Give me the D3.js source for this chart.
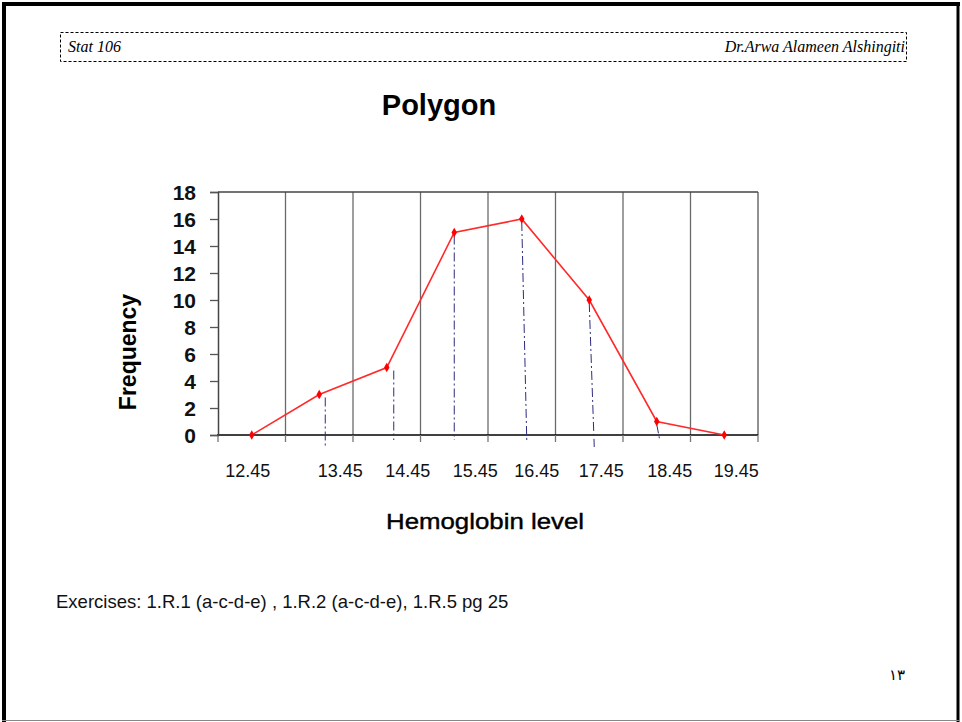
<!DOCTYPE html>
<html lang="en">
<head>
<meta charset="UTF-8">
<title>Polygon</title>
<script src="https://d3js.org/d3.v7.min.js"></script>
<style>
    body { margin: 0; padding: 0; background: #fff; }
    svg { display: block; }
    .serif { font-family: "Liberation Serif", "Times New Roman", serif; font-style: italic; }
    .sans { font-family: "Liberation Sans", Arial, sans-serif; }
</style>
</head>
<body>
<svg id="page" width="962" height="722"></svg>
<script>
    // chart data
    const categories = ["12.45", "13.45", "14.45", "15.45", "16.45", "17.45", "18.45", "19.45"];
    const frequency = [0, 3, 5, 15, 16, 10, 1, 0];
    const yTicks = [0, 2, 4, 6, 8, 10, 12, 14, 16, 18];

    // layout constants (label / drop line nudges, as in the slide)
    const labelNudge = [-4, 21, 21, 21, 15, 12, 13, 12];
    const dropNudge = [0, 6, 7, 0, 2, 2, 0, 0];

    const svg = d3.select("#page");

    // page frame
    svg.append("rect").attr("x", 0).attr("y", 0).attr("width", 962).attr("height", 722).attr("fill", "#fff");
    svg.append("line").attr("x1", 2).attr("x2", 960).attr("y1", 4).attr("y2", 4).attr("stroke", "#000").attr("stroke-width", 4);
    svg.append("line").attr("x1", 4).attr("x2", 4).attr("y1", 2).attr("y2", 722).attr("stroke", "#000").attr("stroke-width", 4);
    svg.append("line").attr("x1", 958).attr("x2", 958).attr("y1", 2).attr("y2", 722).attr("stroke", "#000").attr("stroke-width", 3);
    svg.append("line").attr("x1", 2).attr("x2", 960).attr("y1", 720.5).attr("y2", 720.5).attr("stroke", "#888").attr("stroke-width", 1);

    // header box
    svg.append("rect")
       .attr("x", 60.5).attr("y", 32.5).attr("width", 846).attr("height", 29)
       .attr("fill", "none").attr("stroke", "#000").attr("stroke-width", 1)
       .attr("stroke-dasharray", "3,2");
    svg.append("text").attr("class", "serif").attr("x", 68).attr("y", 52)
       .attr("font-size", 16).text("Stat 106");
    svg.append("text").attr("class", "serif").attr("x", 905).attr("y", 52)
       .attr("font-size", 16).attr("text-anchor", "end").text("Dr.Arwa Alameen Alshingiti");

    // title
    svg.append("text").attr("class", "sans").attr("x", 439).attr("y", 115)
       .attr("font-size", 29).attr("font-weight", "bold").attr("text-anchor", "middle")
       .text("Polygon");

    // scales
    const x = d3.scaleBand().domain(categories).range([218, 758]);
    const y = d3.scaleLinear().domain([0, 18]).range([435, 192]);
    const cx = c => x(c) + x.bandwidth() / 2;

    const plot = svg.append("g");

    // vertical grid lines at bin edges
    const edges = categories.map(c => x(c)).concat([x.range()[1]]);
    plot.selectAll(".grid")
        .data(edges.slice(1))
        .enter().append("line")
        .attr("x1", d => d).attr("x2", d => d)
        .attr("y1", y(18)).attr("y2", y(0))
        .attr("stroke", (d, i) => i === edges.length - 2 ? "#555" : "#6a6a6a")
        .attr("stroke-width", 1.3);

    // plot top border
    plot.append("line")
        .attr("x1", x.range()[0]).attr("x2", x.range()[1])
        .attr("y1", y(18)).attr("y2", y(18))
        .attr("stroke", "#444").attr("stroke-width", 1.3);

    // x axis line and ticks
    plot.append("line")
        .attr("x1", x.range()[0] - 1).attr("x2", x.range()[1])
        .attr("y1", y(0)).attr("y2", y(0))
        .attr("stroke", "#000").attr("stroke-width", 1.5);
    plot.selectAll(".xtick")
        .data(edges)
        .enter().append("line")
        .attr("x1", d => d).attr("x2", d => d)
        .attr("y1", y(0)).attr("y2", y(0) + 7)
        .attr("stroke", "#777").attr("stroke-width", 1.3);

    // y axis
    const yAxis = d3.axisLeft(y).tickValues(yTicks).tickSize(8).tickPadding(14);
    const yg = plot.append("g").attr("transform", `translate(${x.range()[0]},0)`).call(yAxis);
    yg.select(".domain").attr("stroke", "#444").attr("stroke-width", 1.5);
    yg.selectAll(".tick line").attr("stroke", "#555").attr("stroke-width", 1.3);
    yg.selectAll(".tick text")
      .attr("font-family", "Liberation Sans, Arial, sans-serif")
      .attr("font-size", 21).attr("font-weight", "bold").attr("fill", "#111")
      .attr("dy", "0.36em");

    // dash-dot drop lines
    const points = categories.map((c, i) => ({ c: c, v: frequency[i], i: i }));
    plot.selectAll(".drop")
        .data(points.filter(d => d.v > 0))
        .enter().append("line")
        .attr("x1", d => cx(d.c) + (d.i >= 4 ? 0 : dropNudge[d.i]))
        .attr("x2", d => cx(d.c) + dropNudge[d.i] + (d.i >= 4 ? 3 : 0))
        .attr("y1", d => y(d.v) + 3)
        .attr("y2", d => (d.i === 1 || d.i === 5) ? y(0) + 12 : y(0) + 5)
        .attr("stroke", "#2c2c80").attr("stroke-width", 1)
        .attr("stroke-dasharray", "9,3,2,3");

    // polygon line
    const line = d3.line().x(d => cx(d.c)).y(d => y(d.v));
    plot.append("path")
        .datum(points)
        .attr("d", line)
        .attr("fill", "none")
        .attr("stroke", "#ff2a2a")
        .attr("stroke-width", 1.6);

    // markers
    plot.selectAll(".pt")
        .data(points)
        .enter().append("path")
        .attr("transform", d => `translate(${cx(d.c)},${y(d.v)})`)
        .attr("d", d3.symbol().type(d3.symbolDiamond).size(26))
        .attr("fill", "#ff0000");

    // x labels
    plot.selectAll(".xlab")
        .data(categories)
        .enter().append("text")
        .attr("class", "sans")
        .attr("x", (d, i) => cx(d) + labelNudge[i])
        .attr("y", 477)
        .attr("font-size", 18)
        .attr("text-anchor", "middle")
        .attr("fill", "#111")
        .text(d => d);

    // axis titles
    svg.append("text").attr("class", "sans")
       .attr("x", 485).attr("y", 529)
       .attr("font-size", 22).attr("text-anchor", "middle")
       .attr("textLength", 198).attr("lengthAdjust", "spacingAndGlyphs")
       .attr("stroke", "#000").attr("stroke-width", 0.4)
       .text("Hemoglobin level");

    svg.append("text").attr("class", "sans")
       .attr("transform", "translate(136,352) rotate(-90)")
       .attr("font-size", 23).attr("font-weight", "bold").attr("text-anchor", "middle")
       .text("Frequency");

    // footer text
    svg.append("text").attr("class", "sans")
       .attr("x", 56).attr("y", 608).attr("font-size", 18.5).attr("fill", "#111")
       .text("Exercises: 1.R.1 (a-c-d-e) , 1.R.2 (a-c-d-e), 1.R.5 pg 25");

    svg.append("text")
       .attr("x", 905).attr("y", 680)
       .attr("font-family", "DejaVu Sans, Noto Sans, sans-serif")
       .attr("font-size", 15).attr("text-anchor", "end")
       .text("١٣");
</script>
</body>
</html>
